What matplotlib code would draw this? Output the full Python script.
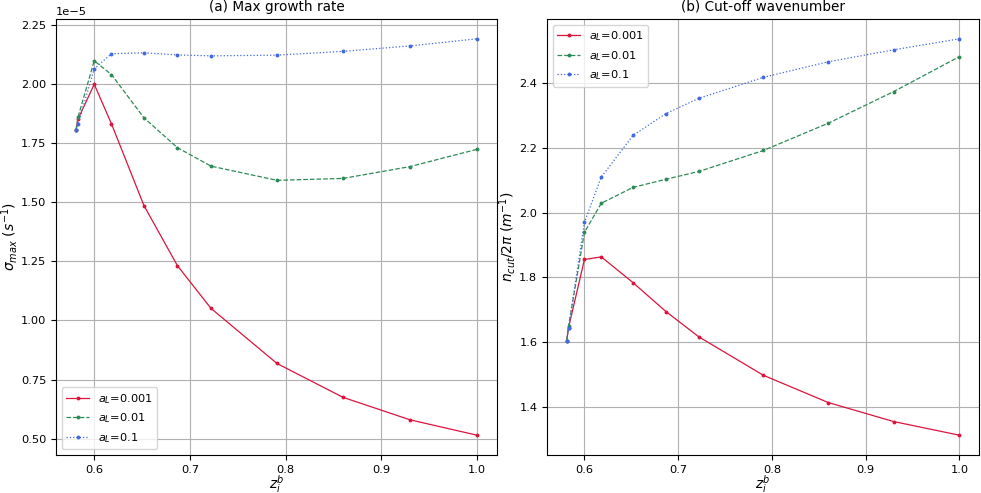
import matplotlib
matplotlib.use("Agg")
import matplotlib.pyplot as plt

# Posizioni dell'interfaccia
z_b = [0.581, 0.583, 0.6, 0.618, 0.652, 0.687, 0.722, 0.791, 0.86, 0.93, 1.0]

# Tasso di crescita massimo (unita' 1e-5 s^-1)
sigma_001 = [1.805, 1.850, 1.998, 1.831, 1.485, 1.231, 1.051, 0.818, 0.675, 0.580, 0.515]
sigma_01 = [1.805, 1.858, 2.097, 2.039, 1.856, 1.730, 1.652, 1.592, 1.600, 1.650, 1.723]
sigma_1 = [1.806, 1.828, 2.063, 2.127, 2.131, 2.122, 2.118, 2.121, 2.137, 2.160, 2.190]

# Numero d'onda di cut-off
ncut_001 = [1.603, 1.644, 1.855, 1.863, 1.783, 1.694, 1.616, 1.497, 1.413, 1.354, 1.312]
ncut_01 = [1.603, 1.648, 1.939, 2.029, 2.078, 2.103, 2.127, 2.192, 2.276, 2.374, 2.482]
ncut_1 = [1.603, 1.642, 1.970, 2.110, 2.239, 2.306, 2.353, 2.418, 2.466, 2.503, 2.537]

labels = ["$a_L$=0.001", "$a_L$=0.01", "$a_L$=0.1"]
colors = ["crimson", "seagreen", "royalblue"]
styles = ["-", "--", ":"]

plt.rcParams["font.size"] = 8.2
plt.rcParams["axes.labelsize"] = 10

fig = plt.figure(figsize=(9.81, 4.93), dpi=100)
ax1 = fig.add_axes([56 / 981, 1 - 455 / 493, 441 / 981, 436 / 493])
ax2 = fig.add_axes([547 / 981, 1 - 455 / 493, 432 / 981, 436 / 493])

for y, lab, c, ls in zip([sigma_001, sigma_01, sigma_1], labels, colors, styles):
    ax1.plot(z_b, [v * 1e-5 for v in y], ls, color=c, marker="o", markersize=1.8,
             linewidth=0.9, label=lab)
ax1.set_title("(a) Max growth rate")
ax1.set_xlabel("$z_i^b$", labelpad=-1.5)
ax1.set_ylabel(r"$\sigma_{max}$ $(s^{-1})$", labelpad=1)
ax1.grid(True)
ax1.legend(loc="lower left")

for y, lab, c, ls in zip([ncut_001, ncut_01, ncut_1], labels, colors, styles):
    ax2.plot(z_b, y, ls, color=c, marker="o", markersize=1.8, linewidth=0.9, label=lab)
ax2.set_title("(b) Cut-off wavenumber")
ax2.set_xlabel("$z_i^b$", labelpad=-1.5)
ax2.set_ylabel(r"$n_{cut}/2\pi$ $(m^{-1})$", labelpad=1)
ax2.grid(True)
ax2.legend(loc="upper left")

plt.savefig("out.png")
